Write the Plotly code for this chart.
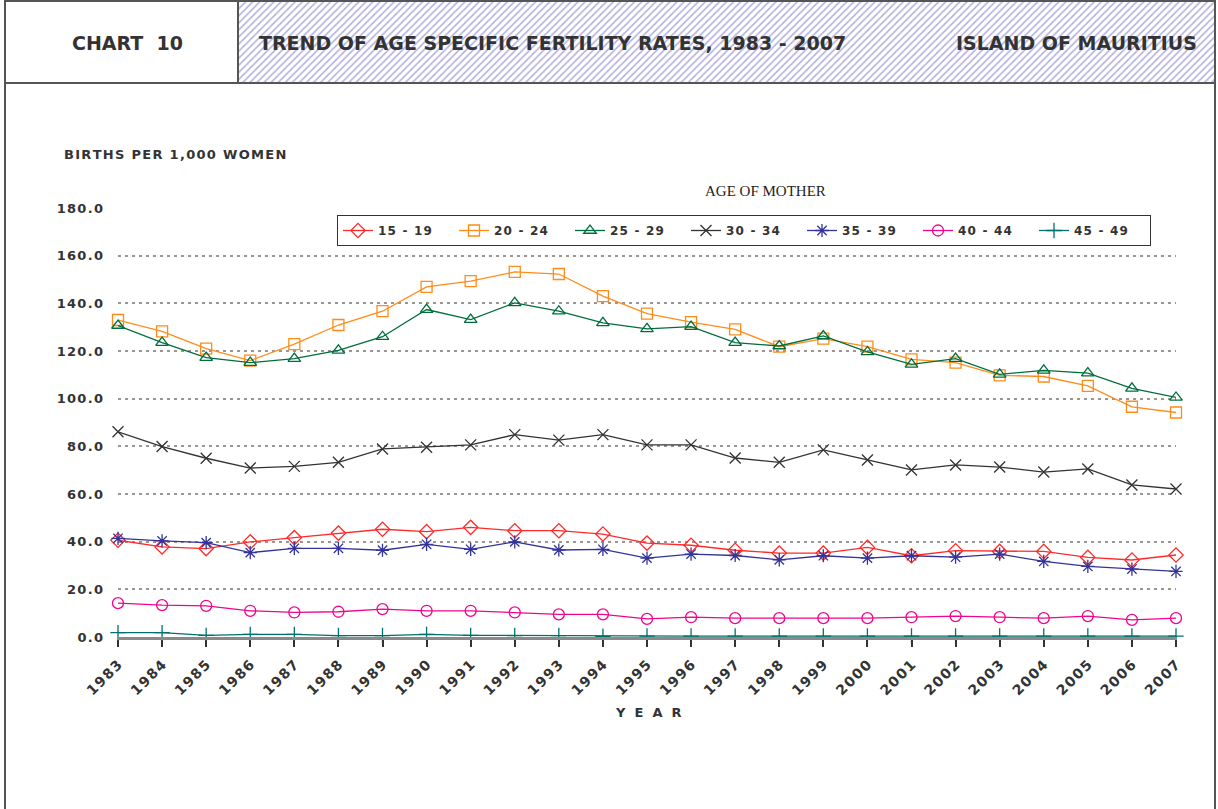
import plotly.graph_objects as go

# years on the x axis
years = list(range(1983, 2008))

# age specific fertility rates, births per 1,000 women
asfr_15_19 = [40.6, 37.8, 37.1, 39.9, 41.7, 43.6, 45.2, 44.2, 46.0, 44.6, 44.6, 43.2,
              39.4, 38.5, 36.4, 35.2, 35.2, 37.6, 34.1, 36.2, 35.9, 35.9, 33.4, 32.3, 34.4]
asfr_20_24 = [133.0, 128.2, 121.0, 116.0, 122.9, 130.9, 136.7, 146.9, 149.3, 153.2, 152.3, 143.0,
              135.7, 132.1, 129.1, 121.8, 125.2, 121.8, 116.5, 115.1, 109.8, 109.3, 105.4, 96.6, 94.2]
asfr_25_29 = [130.7, 123.5, 117.2, 115.1, 116.8, 120.3, 126.0, 137.4, 133.2, 140.2, 136.7, 131.8,
              129.3, 130.2, 123.5, 122.1, 126.3, 119.6, 114.4, 116.8, 110.2, 111.9, 110.7, 104.3, 100.5]
asfr_30_34 = [86.1, 79.9, 75.0, 70.9, 71.6, 73.3, 78.9, 79.6, 80.6, 84.9, 82.6, 84.9,
              80.6, 80.6, 75.1, 73.3, 78.5, 74.3, 70.1, 72.2, 71.3, 69.2, 70.5, 63.8, 62.1]
asfr_35_39 = [41.4, 40.3, 39.6, 35.4, 37.2, 37.2, 36.4, 38.9, 36.8, 39.9, 36.5, 36.8,
              33.1, 34.8, 34.2, 32.4, 34.1, 33.1, 34.1, 33.5, 34.8, 31.7, 29.6, 28.5, 27.5]
asfr_40_44 = [14.2, 13.4, 13.1, 11.0, 10.3, 10.6, 11.7, 11.0, 11.0, 10.3, 9.5, 9.5,
              7.6, 8.3, 7.9, 7.9, 7.9, 7.9, 8.3, 8.8, 8.3, 7.9, 8.8, 7.2, 7.9]
asfr_45_49 = [1.8, 1.8, 0.7, 1.1, 1.1, 0.6, 0.6, 1.1, 0.7, 0.6, 0.6, 0.3,
              0.4, 0.4, 0.4, 0.4, 0.4, 0.4, 0.4, 0.4, 0.4, 0.4, 0.4, 0.4, 0.4]

y_ticks = [0, 20, 40, 60, 80, 100, 120, 140, 160, 180]

series = [
    ("15 - 19", asfr_15_19, "#ff2a2a", "diamond-open"),
    ("20 - 24", asfr_20_24, "#ff8c1a", "square-open"),
    ("25 - 29", asfr_25_29, "#006e3c", "triangle-up-open"),
    ("30 - 34", asfr_30_34, "#333333", "x-thin-open"),
    ("35 - 39", asfr_35_39, "#333399", "asterisk-open"),
    ("40 - 44", asfr_40_44, "#f0058c", "circle-open"),
    ("45 - 49", asfr_45_49, "#00706e", "cross-thin-open"),
]

W, H = 1218, 809
TXT = "#333333"
BOLD = "DejaVu Sans"


def spaced(s):
    # poor man's letter spacing
    return "\u200a".join(s)


fig = go.Figure()

for name, vals, color, symbol in series:
    fig.add_trace(go.Scatter(
        x=years, y=vals, name=spaced(name), mode="lines+markers",
        line=dict(color=color, width=1.3),
        marker=dict(symbol=symbol, size=11, color=color, line=dict(color=color, width=1.3)),
        cliponaxis=False))

# hatched header panel, drawn on a hidden pixel-space axis pair
fig.add_trace(go.Scatter(
    x=[239, 1214, 1214, 239, 239], y=[2, 2, 82, 82, 2],
    fill="toself", mode="none", xaxis="x2", yaxis="y2",
    fillcolor="white",
    fillpattern=dict(shape="/", fgcolor="#b2aede", bgcolor="white", size=5, solidity=0.3),
    showlegend=False, hoverinfo="skip"))

frame = dict(color="#555555", width=2)
shapes = [
    dict(type="rect", xref="x2", yref="y2", x0=5, x1=1215, y0=1, y1=820, line=frame),
    dict(type="line", xref="x2", yref="y2", x0=5, x1=1215, y0=83, y1=83, line=frame),
    dict(type="line", xref="x2", yref="y2", x0=238, x1=238, y0=1, y1=83, line=frame),
]

annotations = [
    dict(text="<b>CHART\u00a0 10</b>", x=127, y=43, xanchor="center",
         font=dict(family=BOLD, size=19, color=TXT)),
    dict(text="<b>TREND OF AGE SPECIFIC FERTILITY RATES, 1983 - 2007</b>", x=257, y=43,
         xanchor="left", font=dict(family=BOLD, size=19, color=TXT)),
    dict(text="<b>ISLAND OF MAURITIUS</b>", x=1199, y=43, xanchor="right",
         font=dict(family=BOLD, size=19, color=TXT)),
    dict(text="<b>" + spaced("BIRTHS PER 1,000 WOMEN") + "</b>", x=62, y=154, xanchor="left",
         font=dict(family=BOLD, size=13, color=TXT)),
    dict(text="AGE OF MOTHER", x=765, y=191, xanchor="center",
         font=dict(family="Liberation Serif", size=15, color="#222222")),
    dict(text="<b>Y  E  A  R</b>", x=648, y=712, xanchor="center",
         font=dict(family=BOLD, size=13, color=TXT)),
]
for a in annotations:
    a.update(xref="x2", yref="y2", showarrow=False, yanchor="middle")

fig.update_layout(
    template="none",
    width=W, height=H,
    margin=dict(l=0, r=0, t=0, b=0, pad=0),
    paper_bgcolor="white", plot_bgcolor="rgba(0,0,0,0)",
    shapes=shapes, annotations=annotations,
    xaxis=dict(
        domain=[118 / W, 1176 / W], range=[1983, 2007], automargin=False,
        tickmode="array", tickvals=years, ticktext=[spaced(str(y)) for y in years],
        tickangle=-45, ticks="outside", ticklen=7, tickwidth=1.5, tickcolor="#333333",
        ticklabelstandoff=4,
        showgrid=False, zeroline=False, showline=True, linecolor="#8a8a8a", linewidth=3,
        tickfont=dict(family=BOLD, size=14, color=TXT, weight="bold")),
    yaxis=dict(
        domain=[(H - 637) / H, (H - 208) / H], range=[0, 180], automargin=False,
        tickmode="array", tickvals=y_ticks, ticktext=[spaced(f"{v:.1f}") for v in y_ticks],
        showgrid=True, gridcolor="#9e9490", gridwidth=2, griddash="3px,4px",
        zeroline=False, showline=False, ticks="", ticklabelstandoff=14,
        tickfont=dict(family=BOLD, size=13, color=TXT, weight="bold")),
    xaxis2=dict(domain=[0, 1], range=[0, W], visible=False, anchor="y2", automargin=False),
    yaxis2=dict(domain=[0, 1], range=[H, 0], visible=False, anchor="x2", automargin=False),
    legend=dict(
        orientation="h", x=337 / W, y=(H - 215) / H, xanchor="left", yanchor="top",
        bordercolor="#333333", borderwidth=1, bgcolor="white",
        entrywidth=71, entrywidthmode="pixels", itemwidth=30,
        font=dict(family=BOLD, size=12, color=TXT, weight="bold")),
    showlegend=True,
)

# drop the default page margin so the figure sits flush in the window
fig.write_html("out.html", config={"displayModeBar": False},
               post_script="document.body.style.margin='0';")
